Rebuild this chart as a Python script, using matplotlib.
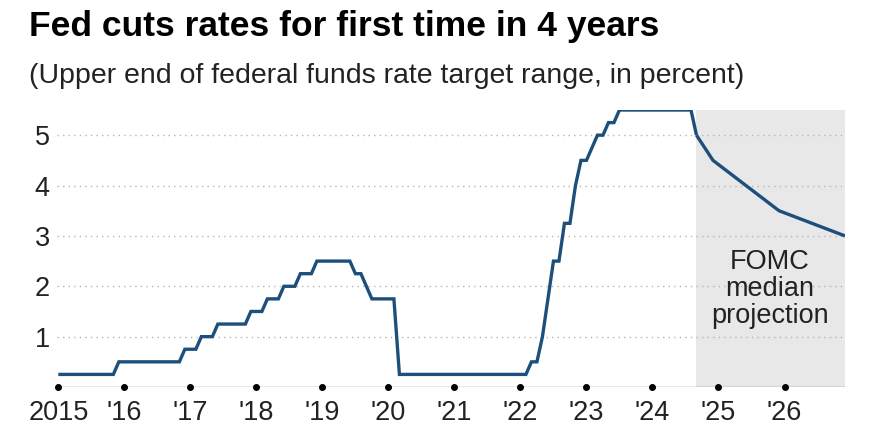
import pandas as pd
import matplotlib
matplotlib.use("Agg")
import matplotlib.pyplot as plt

plt.rcParams['font.family'] = ['Liberation Sans', 'DejaVu Sans']

# upper end of target range, value in effect at month end (change months only)
change_months = ["2015-01", "2015-12", "2016-12", "2017-03", "2017-06", "2017-12",
                 "2018-03", "2018-06", "2018-09", "2018-12", "2019-07", "2019-09",
                 "2019-10", "2020-03", "2022-03", "2022-05", "2022-06", "2022-07",
                 "2022-09", "2022-11", "2022-12", "2023-02", "2023-03", "2023-05",
                 "2023-07", "2024-09"]
change_rates = [0.25, 0.5, 0.75, 1.0, 1.25, 1.5,
                1.75, 2.0, 2.25, 2.5, 2.25, 2.0,
                1.75, 0.25, 0.5, 1.0, 1.75, 2.5,
                3.25, 4.0, 4.5, 4.75, 5.0, 5.25,
                5.5, 5.0]

# FOMC median projection (upper end)
proj_months = ["2024-09", "2024-12", "2025-12", "2026-12"]
proj_rates = [5.0, 4.5, 3.5, 3.0]

year_ticks = list(range(2015, 2027))
year_labels = ["2015"] + ["'%02d" % (y % 100) for y in year_ticks[1:]]
y_ticks = [1, 2, 3, 4, 5]


def to_decimal(period):
    return period.year + (period.month - 1) / 12.0


hist = pd.Series(change_rates, index=pd.PeriodIndex(change_months, freq="M"))
months = pd.period_range("2015-01", "2024-09", freq="M")
hist = hist.reindex(months).ffill()
proj = pd.Series(proj_rates, index=pd.PeriodIndex(proj_months, freq="M"))

x_hist = [to_decimal(p) for p in hist.index]
x_proj = [to_decimal(p) for p in proj.index]

fig = plt.figure(figsize=(8.91, 4.47), dpi=100)
ax = fig.add_axes([0.0636, 0.1342, 0.8848, 0.6197])

line_color = "#1d4f7c"
ax.axvspan(x_proj[0], 2026 + 11 / 12.0, color="#e8e8e8", lw=0, zorder=0)
for y in y_ticks:
    ax.axhline(y, color="#b5b5b5", lw=1.0, ls=(0, (1, 3)), zorder=1)
ax.plot(x_hist, hist.values, color=line_color, lw=2.4, solid_joinstyle="miter",
        solid_capstyle="butt", zorder=3)
ax.plot(x_proj, proj.values, color=line_color, lw=2.4, solid_capstyle="butt", zorder=3)

ax.axhline(0, color="#444444", lw=0.9, zorder=2)
ax.plot(year_ticks, [0] * len(year_ticks), "o", color="black", ms=4, clip_on=False, zorder=4)

ax.set_xlim(2014.975, 2026 + 11 / 12.0)
ax.set_ylim(0, 5.5)
ax.set_yticks(y_ticks)
ax.set_yticklabels([str(v) for v in y_ticks])
ax.set_xticks(year_ticks)
ax.set_xticklabels(year_labels)
ax.tick_params(axis="both", length=0, labelsize=19.5, colors="#222222")
ax.tick_params(axis="x", pad=9)
ax.tick_params(axis="y", pad=5)
for s in ax.spines.values():
    s.set_visible(False)

ax.text(2025.78, 1.94, "FOMC\nmedian\nprojection", ha="center", va="center",
        fontsize=19.5, color="#222222", linespacing=1.05, zorder=5)

fig.text(0.033, 0.919, "Fed cuts rates for first time in 4 years", fontsize=25.5,
         fontweight="bold", color="black", ha="left", va="baseline")
fig.text(0.033, 0.814, "(Upper end of federal funds rate target range, in percent)",
         fontsize=20.5, color="#222222", ha="left", va="baseline")

fig.savefig("out.png", dpi=100)
